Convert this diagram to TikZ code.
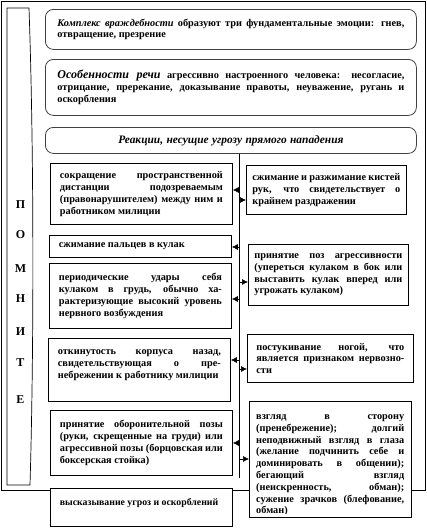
\documentclass[tikz,border=0pt]{standalone}
\usepackage{fontspec}
\setmainfont{Liberation Serif}[BoldFont={Liberation Serif Bold}, ItalicFont={Liberation Serif Italic}, BoldItalicFont={Liberation Serif Bold Italic}]
\usetikzlibrary{arrows.meta}
\newcommand\txtfont{\fontsize{10.3}{11.8}\selectfont\bfseries\tolerance=9999\emergencystretch=30pt\hbadness=10000}
\newcommand\bigit{\fontsize{12}{11.8}\selectfont\bfseries\itshape}
\tikzset{
  outerframe/.style={draw, line width=0.7pt},
  rndbox/.style={draw=black!75, line width=0.8pt, rounded corners=8pt, fill=white,
    anchor=north west, inner xsep=12pt, inner ysep=0pt, text width=347pt,
    align=justify, font=\txtfont},
  lbox/.style={draw, line width=0.8pt, fill=white, anchor=north west, inner xsep=9.5pt,
    inner ysep=0pt, text width=163pt, align=justify, font=\txtfont},
  rbox/.style={draw, line width=0.8pt, fill=white, anchor=north west, inner xsep=6pt,
    inner ysep=0pt, text width=148pt, minimum width=160pt, align=justify, font=\txtfont},
  rtext/.style={anchor=north west, inner xsep=6pt, inner ysep=0pt, text width=148pt,
    align=justify, font=\txtfont},
  arr/.style={-{Latex[length=6pt,width=6pt]}, line width=0.6pt},
  letter/.style={font=\fontsize{12}{12}\selectfont\bfseries, inner sep=0pt}
}
\begin{document}
\begin{tikzpicture}[x=1pt,y=-1pt]
\useasboundingbox (0,0) rectangle (427,530);
\fill[white] (0,0) rectangle (427,530);
% outer frame
\draw[outerframe] (1,1) rectangle (425,490);
% left strip
\draw[line width=0.7pt] (7,8) -- (29,8) .. controls (34,150) and (34,350) .. (30,485) -- (7,485) -- cycle;
\node[letter] (p1) at (20.5,205) {П};
\node[letter] (p2) at (20.5,235) {О};
\node[letter] (p3) at (20.5,269) {М};
\node[letter] (p4) at (20.5,299) {Н};
\node[letter] (p5) at (20.5,332) {И};
\node[letter] (p6) at (20.5,363) {Т};
\node[letter] (p7) at (20.5,400) {Е};
% top rounded boxes
\node[rndbox, minimum height=40pt] (b1) at (45,9)
  {{\itshape Комплекс враждебности} образуют три фундаментальные эмоции: гнев,\linebreak отвращение, презрение};
\node[rndbox, minimum height=56pt] (b2) at (45,59)
  {{\bigit Особенности речи} агрессивно настроенного человека: несогласие,\linebreak отрицание, пререкание, доказывание правоты, неуважение, ругань и\linebreak оскорбления};
\node[rndbox, minimum height=26pt, align=center] (b3) at (45,127)
  {\fontsize{11.4}{11.8}\selectfont\itshape Реакции, несущие угрозу прямого нападения};
% central line
\coordinate (vbot) at (239,478);
\draw[line width=0.7pt] (b3.south -| vbot) -- (vbot);
% left boxes
\node[lbox, minimum height=61pt] (l1) at (50,163)
  {сокращение пространственной\linebreak дистанции подозреваемым\linebreak (правонарушителем) между ним и\linebreak работником милиции};
\node[lbox, minimum height=22pt] (l2) at (49,235)
  {сжимание пальцев в кулак};
\node[lbox, minimum height=65pt] (l3) at (49,263)
  {периодические удары себя\linebreak кулаком в грудь, обычно ха-\linebreak рактеризующие высокий уровень\linebreak нервного возбуждения};
\node[lbox, minimum height=63pt] (l4) at (48,338)
  {откинутость корпуса назад,\linebreak свидетельствующая о пре-\linebreak небрежении к работнику милиции\par\mbox{}};
\node[lbox, minimum height=65pt] (l5) at (50,410)
  {принятие оборонительной позы\linebreak (руки, скрещенные на груди) или\linebreak агрессивной позы (борцовская или\linebreak боксерская стойка)};
\node[lbox, minimum height=38pt] (l6) at (50,488)
  {\fontsize{9.8}{11.8}\selectfont высказывание угроз и оскорблений\par\mbox{}};
% right boxes
\node[rbox, minimum height=49pt] (r1) at (246,165)
  {сжимание и разжимание кистей\linebreak рук, что свидетельствует о\linebreak крайнем раздражении};
\node[rbox, minimum height=61pt] (r2) at (248,244)
  {принятие поз агрессивности\linebreak (упереться кулаком в бок или\linebreak выставить кулак вперед или\linebreak угрожать кулаком)};
\node[rbox, minimum height=48pt, minimum width=166pt] (r3) at (247,334)
  {постукивание ногой, что\linebreak является признаком нервозно-\linebreak сти};
\node[rbox, minimum height=116pt, minimum width=162pt] (r4) at (249,401) {};
\begin{scope}
\clip (r4.north west) rectangle ([yshift=4pt]r4.south east);
\node[rtext] (r4t) at ([xshift=1pt,yshift=-13.5pt]r4.north west)
  {взгляд в сторону\linebreak (пренебрежение); долгий\linebreak неподвижный взгляд в глаза\linebreak (желание подчинить себе и\linebreak доминировать в общении);\linebreak бегающий взгляд\linebreak (неискренность, обман);\linebreak сужение зрачков (блефование,\linebreak обман)};
\end{scope}
% arrows from central line
\coordinate (a1) at (239,190);
\coordinate (a2) at (239,200);
\coordinate (a3) at (239,247);
\coordinate (a4) at (239,282);
\coordinate (a5) at (239,299);
\coordinate (a6) at (239,360);
\coordinate (a7) at (239,369);
\coordinate (a8) at (239,443);
\coordinate (a9) at (239,459);
\draw[arr] (a1) -- (l1.east |- a1);
\draw[arr] (a2) -- (r1.west |- a2);
\draw[arr] (a3) -- (l2.east |- a3);
\draw[arr] (a4) -- (r2.west |- a4);
\draw[arr] (a5) -- (l3.east |- a5);
\draw[arr] (a6) -- (l4.east |- a6);
\draw[arr] (a7) -- (r3.west |- a7);
\draw[arr] (a8) -- (l5.east |- a8);
\draw[arr] (a9) -- (r4.west |- a9);
\end{tikzpicture}
\end{document}
